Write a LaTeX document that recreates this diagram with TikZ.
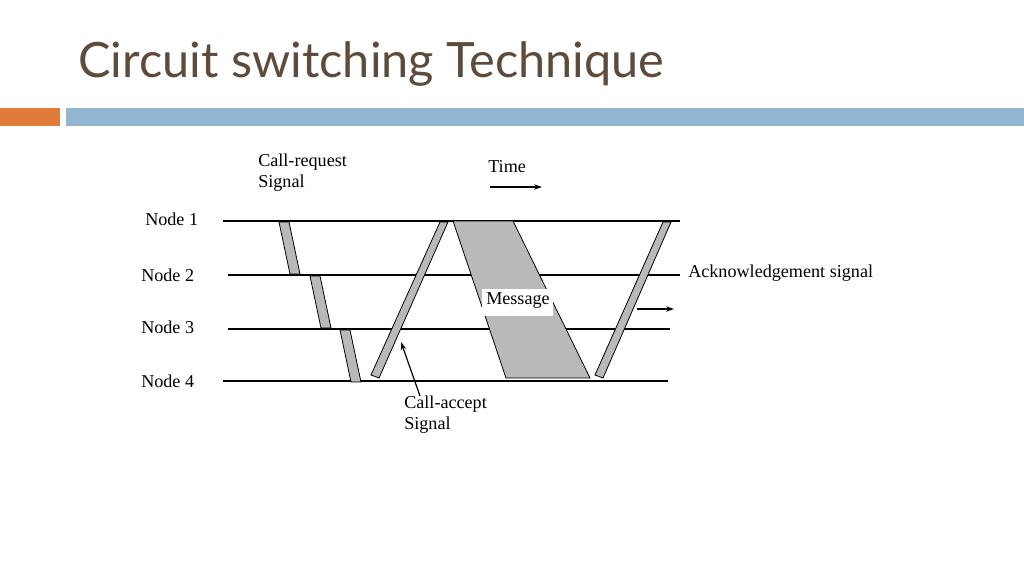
\documentclass[tikz,border=0pt]{standalone}
\usepackage{fontspec}
\usetikzlibrary{arrows.meta}
\setmainfont{Liberation Serif}
\newfontfamily\titlefont{Lato}
\begin{document}
\begin{tikzpicture}[x=0.75pt,y=-0.75pt,
  lbl/.style={font=\fontsize{13.6}{15.5}\selectfont,inner sep=0pt},
  band/.style={fill=gray!55,draw=black,line width=0.6pt},
  tl/.style={line width=1.1pt},
  arr/.style={-{Stealth[length=6pt,width=4pt]},line width=0.9pt}]
\useasboundingbox (0,0) rectangle (1024,576);
\definecolor{tb}{HTML}{5E4B3C}
\definecolor{ob}{HTML}{E07B39}
\definecolor{bb}{HTML}{93B6D2}
\node[anchor=west,text=tb,font=\titlefont\fontsize{36.5}{40}\selectfont,inner sep=0pt] (title) at (78,64) {Circuit switching Technique};
\fill[ob] (0,108) rectangle (60,126);
\fill[bb] (66,108) rectangle (1024,126);
% node lines
\coordinate (a1) at (223,221); \coordinate (b1) at (680,221);
\coordinate (a2) at (228,275); \coordinate (b2) at (680,275);
\coordinate (a3) at (228,329); \coordinate (b3) at (670,329);
\coordinate (a4) at (223,381); \coordinate (b4) at (668,381);
\draw[tl] (a1)--(b1); \draw[tl] (a2)--(b2); \draw[tl] (a3)--(b3); \draw[tl] (a4)--(b4);
\node[lbl,anchor=west] (n1) at (145,219) {Node 1};
\node[lbl,anchor=west] (n2) at (141,275) {Node 2};
\node[lbl,anchor=west] (n3) at (141,327) {Node 3};
\node[lbl,anchor=west] (n4) at (141,381) {Node 4};
% call request
\draw[band] (279,222)--(289,222)--(300,274)--(290,274)--cycle;
\draw[band] (310,276)--(320,276)--(331,328)--(321,328)--cycle;
\draw[band] (340,330)--(350,330)--(361,382)--(351,382)--cycle;
% call accept
\draw[band] (371,375)--(379,378)--(448,222)--(440,222)--cycle;
% message
\draw[band] (453,221)--(513,221)--(590,378)--(506,378)--cycle;
\fill[white] (482,289) rectangle (553,316);
\node[lbl,anchor=west] (msgt) at (486,301) {Message};
% ack
\draw[band] (595,375)--(603,378)--(671,222)--(663,222)--cycle;
% labels
\node[lbl,anchor=north west,align=left] (cr) at (258,154) {Call-request\\Signal};
\node[lbl,anchor=west] (time) at (488,167) {Time};
\coordinate (t1) at (490,187); \coordinate (t2) at (542,187);
\draw[arr] (t1)--(t2);
\node[lbl,anchor=west] (ack) at (688,273) {Acknowledgement signal};
\coordinate (k1) at (637,309); \coordinate (k2) at (674,309);
\draw[arr] (k1)--(k2);
\node[lbl,anchor=north west,align=left] (ca) at (404,396) {Call-accept\\Signal};
\coordinate (c1) at (420,396); \coordinate (c2) at (401,342);
\draw[arr] (c1)--(c2);
\end{tikzpicture}
\end{document}
